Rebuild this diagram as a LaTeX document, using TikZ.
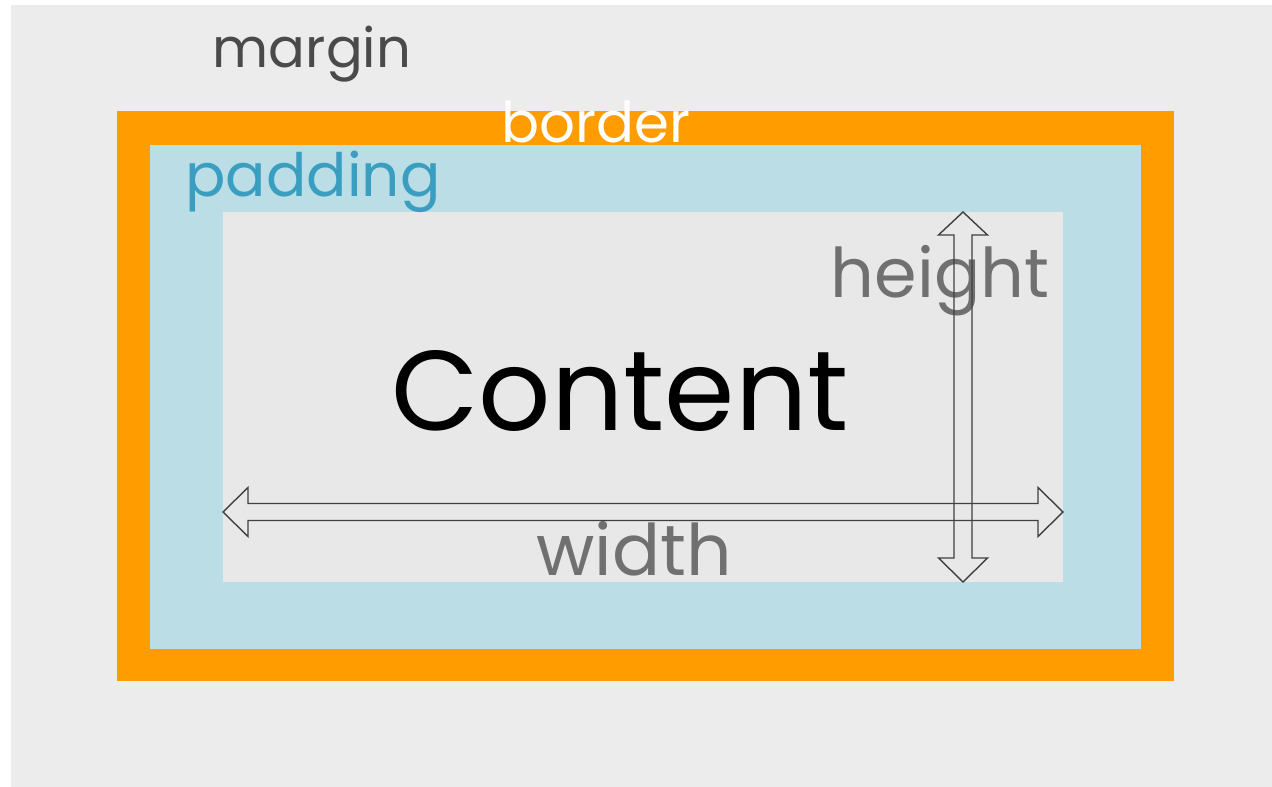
\documentclass[tikz,border=0pt]{standalone}
\usepackage{fontspec}
\setmainfont{Poppins}
\definecolor{marginbg}{HTML}{ECECEC}
\definecolor{borderor}{HTML}{FF9C00}
\definecolor{paddingbl}{HTML}{BBDDE6}
\definecolor{contentbg}{HTML}{E8E8E8}
\definecolor{paddingtx}{HTML}{3A9EC0}
\definecolor{margintx}{HTML}{4A4A4A}
\definecolor{sizetx}{HTML}{707070}
\tikzset{
  lbl/.style={inner sep=0pt, anchor=base},
  sizearrow/.style={draw=black!75, line width=0.8pt, line join=miter}
}
\begin{document}
\begin{tikzpicture}[x=0.02cm, y=-0.02cm]
\useasboundingbox (0,0) rectangle (1272,787);
% the nested boxes
\fill[marginbg] (11,5) rectangle (1272,787);
\fill[borderor] (117,111) rectangle (1174,681);
\fill[paddingbl] (150,145) rectangle (1141,649);
\fill[contentbg] (223,212) rectangle (1063,582);
% labels
\node[lbl, text=margintx, font=\fontsize{31}{31}\selectfont] (margin) at (312,68) {margin};
\node[lbl, text=white, font=\fontsize{32}{32}\selectfont] (border) at (596,143) {border};
\node[lbl, text=paddingtx, font=\fontsize{34}{34}\selectfont] (padding) at (313,197) {padding};
\node[lbl, text=black, font=\fontsize{64.5}{64.5}\selectfont] (content) at (620,430) {Content};
\node[lbl, text=sizetx, font=\fontsize{39}{39}\selectfont] (height) at (940,298) {height};
\node[lbl, text=sizetx, font=\fontsize{40.5}{40.5}\selectfont] (width) at (634,575) {width};
% width arrow
\draw[sizearrow] (223,512) -- (248,487.5) -- (248,503.5) -- (1038,503.5) -- (1038,487.5)
  -- (1063,512) -- (1038,536.5) -- (1038,520.5) -- (248,520.5) -- (248,536.5) -- cycle;
% height arrow
\draw[sizearrow] (963,212) -- (987.5,235) -- (972,235) -- (972,558) -- (987.5,558)
  -- (963,582) -- (938.5,558) -- (954,558) -- (954,235) -- (938.5,235) -- cycle;
\end{tikzpicture}
\end{document}
